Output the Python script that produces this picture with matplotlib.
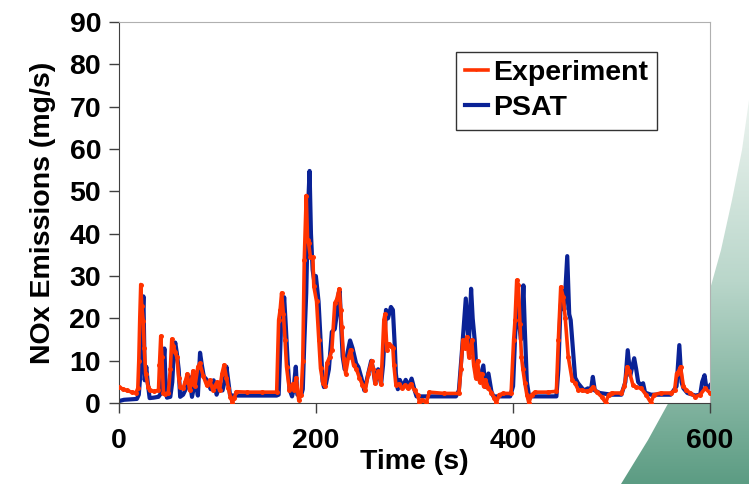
import numpy as np
import matplotlib
matplotlib.use("Agg")
import matplotlib.pyplot as plt
from matplotlib.path import Path
from matplotlib.patches import PathPatch

# NOx emissions, experiment vs PSAT simulation
exp_t = [0, 4, 8, 13, 17, 19, 20, 21, 22, 23, 24.5, 25.5, 27, 29.5, 31, 35, 40, 41, 42.3, 43.5,
         45, 47, 50, 52, 53.5, 55, 57, 58.8, 60.5, 62, 65, 67, 69.3, 71.6, 73, 75, 77, 80, 82, 85.6,
         89, 92, 95, 97, 99.5, 102, 104.5, 106.6, 109, 111, 113, 115, 117, 119, 130, 145, 160, 162, 163.5, 165,
         166.8, 168.5, 170, 173, 176.4, 178, 179.7, 182.4, 184.8, 186.5, 188, 190, 191.4, 192.4, 194.3, 196.7, 197.7, 200.5, 202.8, 204.5,
         207, 209, 211, 214, 216, 219, 221, 223.5, 225, 226, 228, 230, 233, 235, 238, 241, 244, 247, 250, 253,
         256.5, 258, 260, 263, 266, 268.8, 270, 272, 274, 276, 278, 279, 281, 284, 287, 290, 293, 296, 300, 303,
         305, 308, 312, 315, 330, 345, 347, 349, 351, 353, 355, 357, 358, 360, 362, 364, 366, 368, 370, 372,
         375, 378, 381, 383, 386, 390, 398, 400.6, 402, 403.7, 405.4, 407, 408.5, 410, 412, 414, 416, 419, 422, 435,
         444, 446, 448.4, 451, 453, 456, 460, 463, 466, 470, 475, 478, 481, 485, 490, 494, 497, 500, 510, 513,
         516, 518, 521.8, 525, 530, 535, 540, 543, 550, 560, 564, 566, 568, 570, 573, 576, 580, 585, 590, 595, 600]
exp_v = [3.8, 3.3, 3.0, 2.6, 2.4, 3.5, 10, 20, 28, 23, 19.5, 13, 7, 3.8, 3.0, 2.8, 3.0, 9, 15.8, 11,
         2.5, 2.2, 2.5, 8, 15.1, 13.5, 12, 10.8, 6, 3.8, 3.5, 5, 6.9, 3.0, 4.5, 7.6, 4.0, 8.6, 9.4, 6.3,
         4.2, 5.4, 3.2, 4.0, 5.0, 3.0, 7, 9.0, 6, 3.5, 1.5, 0.1, 1.2, 2.7, 2.6, 2.6, 2.6, 19.6, 22, 26,
         21, 15, 8.6, 3.0, 4.6, 3.0, 6.0, 0.7, 2.0, 10, 33.7, 49, 38.4, 37.7, 34.4, 34.4, 27.6, 24, 15, 8.2,
         4.7, 4.0, 9.4, 11, 12.5, 23.6, 24.5, 27, 22, 18, 10.5, 7, 11, 12.6, 9, 8, 6, 4.4, 3.0, 7,
         10, 8, 4.7, 7.5, 4.5, 19.6, 21, 12.5, 14, 13.4, 13, 9, 4.4, 4.5, 3.5, 4.2, 3.5, 4.5, 3.0, 2.0,
         0.3, 0.8, 0.2, 2.6, 2.3, 2.3, 8, 14.9, 13, 15.7, 11, 13, 14.9, 9, 6, 10, 5, 7, 4, 5.5,
         3.5, 2.5, 1.2, 0.1, 2.0, 2.3, 2.3, 15, 19.6, 29, 28, 18.8, 11, 8, 4.7, 2, 0.1, 2.0, 2.6, 2.6,
         2.8, 15, 27.4, 25, 20, 11, 5.5, 4.7, 3.2, 3.0, 2.8, 3.0, 3.8, 2.6, 1.5, 0.1, 2.0, 2.4, 2.4, 4,
         8.6, 7.5, 4.2, 3.8, 3.5, 2.0, 0.1, 2.0, 2.4, 2.4, 3, 7, 7.5, 8.6, 4, 3, 2.4, 1.5, 2.0, 3.5, 2.4]

psat_t = [0, 5, 12, 18, 20, 22, 23.5, 24.7, 25.5, 26, 27.6, 29, 31, 35, 40, 43, 44.5, 46, 47, 48.6,
          52, 54, 55.5, 57, 58.5, 60.5, 62, 65, 68, 71, 74, 77.6, 80, 82.2, 84, 86, 89, 93, 96, 99,
          102, 105, 107, 109, 111, 112.6, 115, 130, 145, 160, 162, 164.4, 166, 167.6, 169.3, 171, 173, 175.6, 177, 179.4,
          181, 185, 186.5, 188, 190, 192, 193.4, 194.8, 196.5, 198, 199.8, 202.5, 205, 206.6, 208, 210, 213, 216, 219, 221,
          223, 224, 225.5, 227, 229, 232, 234.5, 237, 240.6, 243, 246, 249, 252, 256, 258, 260, 263, 266, 268, 270,
          271, 273, 276, 278, 280, 281, 283, 285, 288, 291, 294, 297, 300, 302, 320, 342, 345, 348, 352, 355,
          357.4, 359, 361, 363, 366, 369.8, 372, 375, 378, 380, 397, 400, 402.5, 404.7, 406.5, 408, 410.5, 412, 414, 416,
          420, 444, 446, 448, 450, 452, 455, 457, 458.5, 461, 463, 466, 472, 476, 479, 481, 483, 488, 500, 510,
          514, 516.4, 519, 523, 525, 527, 530, 532, 534, 540, 560, 566, 568.8, 571, 573, 577, 585, 590, 592, 594.4,
          596, 598, 600]
psat_v = [0.5, 0.8, 0.9, 1.0, 2, 8, 18, 25.2, 14, 5.4, 8.6, 5, 1.2, 1.3, 1.5, 2.5, 8, 12.9, 6, 1.3,
          1.5, 5, 12, 14.3, 12, 8, 1.5, 2.0, 3.5, 6.3, 1.5, 5.5, 1.8, 11.9, 9, 6.3, 5.5, 3.3, 5.4, 2,
          4, 3, 5, 8.6, 5, 2.0, 1.8, 1.8, 1.8, 1.8, 2, 18, 19, 25, 18, 10.4, 3.3, 1.6, 3, 8.6,
          2.0, 2.0, 3.3, 14, 26, 47, 54.8, 40, 31.5, 29, 30, 24, 13, 5.2, 3.8, 4.5, 8, 16.8, 17.5, 21,
          26, 26.5, 18, 11, 8, 12, 14.8, 13, 9.4, 8.5, 6, 3.0, 6, 10, 8, 4.7, 8, 4.5, 9, 18,
          22, 20, 22.7, 22, 13, 7, 3.3, 5.5, 3.8, 5.5, 4, 5.8, 3.1, 1.6, 1.6, 1.6, 3, 12, 24.7, 13.4,
          27, 20, 15, 6.9, 5.5, 8.9, 3.8, 7, 2.8, 1.6, 1.6, 4, 18, 25.9, 18, 15, 27.8, 17, 5, 2.0,
          1.6, 1.6, 8, 22, 26.4, 22, 34.7, 21, 19.6, 12, 6, 4.7, 3.0, 3.5, 3, 6.2, 3.0, 2.4, 2.0, 2.0,
          5, 12.5, 6.5, 10.6, 8, 5, 4.2, 4.7, 2.5, 2.0, 2.0, 4, 13.7, 5, 3.5, 2.4, 1.8, 2.0, 5, 6.6,
          4, 3.5, 4.2]

x_ticks = [0, 200, 400, 600]
y_ticks = list(range(0, 100, 10))

plt.rcParams['font.family'] = ['Liberation Sans', 'DejaVu Sans']
plt.rcParams['font.weight'] = 'bold'

fig = plt.figure(figsize=(7.49, 4.84), dpi=100)

# slide decoration: green swoosh in the lower right corner
bg = fig.add_axes([0, 0, 1, 1], zorder=-1)
bg.set_xlim(0, 749)
bg.set_ylim(484, 0)
bg.axis('off')
grad = np.linspace(0, 1, 256).reshape(-1, 1)
cmap = matplotlib.colors.LinearSegmentedColormap.from_list('g', ['#f2f7f4', '#b9d6ca', '#5c9c83'])
img = bg.imshow(grad, cmap=cmap, extent=[600, 749, 484, 80], aspect='auto')
curve = Path([(621, 484), (648, 440), (670, 400), (690, 350), (707, 300), (721, 250),
              (732, 200), (742, 150), (749, 100), (749, 484), (621, 484)])
clip = PathPatch(curve, transform=bg.transData, facecolor='none', edgecolor='none')
bg.add_patch(clip)
img.set_clip_path(clip)

ax = fig.add_axes([0.159, 0.167, 0.789, 0.788])
ax.plot(psat_t, psat_v, color='#0a2296', lw=3.0, label='PSAT', zorder=2)
ax.plot(exp_t, exp_v, color='#ff3300', lw=2.6, marker='o', ms=3.6, mew=0,
        label='Experiment', zorder=3)

ax.set_xlim(0, 600)
ax.set_ylim(0, 90)
ax.set_xticks(x_ticks)
ax.set_yticks(y_ticks)
ax.tick_params(axis='both', labelsize=20.5, length=7, width=1, color='#404040')
ax.tick_params(axis='x', pad=11)
ax.tick_params(axis='y', pad=6)
for s in ['left', 'bottom']:
    ax.spines[s].set_color('#404040')
for s in ['top', 'right']:
    ax.spines[s].set_color('#b0b0b0')

ax.set_xlabel('Time (s)', fontsize=20.5, fontweight='bold', labelpad=-4)
ax.set_ylabel('NOx Emissions (mg/s)', fontsize=20.5, fontweight='bold', labelpad=10)

handles, labels = ax.get_legend_handles_labels()
leg = ax.legend(handles[::-1], labels[::-1], loc='upper right', bbox_to_anchor=(0.91, 0.921),
                fontsize=20.5, frameon=True, fancybox=False, borderaxespad=0,
                handlelength=0.8, handletextpad=0.2, borderpad=0.3, labelspacing=0.3,
                markerscale=0.5)
leg.get_frame().set_edgecolor('black')
leg.get_frame().set_linewidth(1)
for t in leg.get_texts():
    t.set_fontweight('bold')

fig.savefig('out.png', dpi=100)
